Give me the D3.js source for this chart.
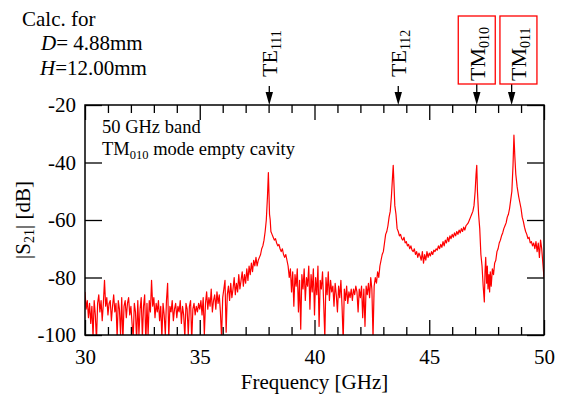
<!DOCTYPE html>
<html><head><meta charset="utf-8">
<script src="https://cdn.jsdelivr.net/npm/d3@7/dist/d3.min.js"></script>
<style>
html,body{margin:0;padding:0;background:#fff;}
svg{display:block;}
</style></head>
<body><svg id="c" width="561" height="396"></svg>
<script>
// ---- data ----
const xTickLabels = [30, 35, 40, 45, 50];
const yTickLabels = [-100, -80, -60, -40, -20];
const modeNames = ["TE", "TE", "TM", "TM"];
const modeSubs = ["111", "112", "010", "011"];
const modeFreqs = [38.03, 43.65, 47.07, 48.59];
const modeBoxed = [false, false, true, true];

const freqGHz = [
30.00,30.05,30.10,30.15,30.20,30.25,30.30,30.35,30.40,30.45,30.50,30.55,30.60,30.65,30.70,30.75,30.80,30.85,30.90,30.95,
31.00,31.05,31.10,31.15,31.20,31.25,31.30,31.35,31.40,31.45,31.50,31.55,31.60,31.65,31.70,31.75,31.80,31.85,31.90,31.95,
32.00,32.05,32.10,32.15,32.20,32.25,32.30,32.35,32.40,32.45,32.50,32.55,32.60,32.65,32.70,32.75,32.80,32.85,32.90,32.95,
33.00,33.05,33.10,33.15,33.20,33.25,33.30,33.35,33.40,33.45,33.50,33.55,33.60,33.65,33.70,33.75,33.80,33.85,33.90,33.95,
34.00,34.05,34.10,34.15,34.20,34.25,34.30,34.35,34.40,34.45,34.50,34.55,34.60,34.65,34.70,34.75,34.80,34.85,34.90,34.95,
35.00,35.05,35.10,35.15,35.20,35.25,35.30,35.35,35.40,35.45,35.50,35.55,35.60,35.65,35.70,35.75,35.80,35.85,35.90,35.95,
36.00,36.05,36.10,36.15,36.20,36.25,36.30,36.35,36.40,36.45,36.50,36.55,36.60,36.65,36.70,36.75,36.80,36.85,36.90,36.95,
37.00,37.05,37.10,37.15,37.20,37.25,37.30,37.35,37.40,37.45,37.50,37.55,37.60,37.65,37.70,37.75,37.80,37.85,37.90,37.95,
37.99,38.02,38.04,38.07,38.10,38.15,38.20,38.25,38.30,38.35,38.40,38.45,38.50,38.55,38.60,38.65,38.70,38.75,38.80,
38.85,38.90,38.95,39.00,39.05,39.10,39.15,39.20,39.25,39.30,39.35,39.40,39.45,39.50,39.55,39.60,39.65,39.70,39.75,39.80,
39.85,39.90,39.95,40.00,40.05,40.10,40.15,40.20,40.25,40.30,40.35,40.40,40.45,40.50,40.55,40.60,40.65,40.70,40.75,40.80,
40.85,40.90,40.95,41.00,41.05,41.10,41.15,41.20,41.25,41.30,41.35,41.40,41.45,41.50,41.55,41.60,41.65,41.70,41.75,41.80,
41.85,41.90,41.95,42.00,42.05,42.10,42.15,42.20,42.25,42.30,42.35,42.40,42.45,42.50,42.55,42.60,42.65,42.70,42.75,42.80,
42.85,42.90,42.95,43.00,43.05,43.10,43.15,43.20,43.25,43.30,43.35,43.40,43.43,43.46,43.50,43.55,43.60,43.65,43.70,43.75,
43.80,43.85,43.90,43.95,44.00,44.05,44.10,44.15,44.20,44.25,44.30,44.35,44.40,44.45,44.50,44.55,44.60,44.65,44.70,44.75,
44.80,44.85,44.90,44.95,45.00,45.05,45.10,45.15,45.20,45.25,45.30,45.35,45.40,45.45,45.50,45.55,45.60,45.65,45.70,45.75,
45.80,45.85,45.90,45.95,46.00,46.05,46.10,46.15,46.20,46.25,46.30,46.35,46.40,46.45,46.50,46.55,46.60,46.65,46.70,46.75,
46.80,46.85,46.90,46.95,47.00,47.04,47.07,47.10,47.15,47.20,47.25,47.30,47.35,47.40,47.43,47.46,47.50,47.53,47.56,47.60,
47.63,47.66,47.70,47.75,47.80,47.85,47.90,47.95,48.00,48.05,48.10,48.15,48.20,48.25,48.30,48.35,48.40,48.45,48.50,48.55,
48.60,48.65,48.69,48.73,48.77,48.83,48.90,48.95,49.00,49.05,49.10,49.15,49.20,49.25,49.30,49.35,49.40,49.45,49.50,49.55,
49.60,49.65,49.70,49.75,49.80,49.85,49.90,49.95,50.00
];
const s21dB = [
-85,-91,-88,-94,-89,-96,-90,-101,-88,-93,-102,-89,-86,-92,-88,-95,-89,-81,-90,-87,
-93,-89,-88,-95,-90,-86,-92,-89,-101,-88,-91,-100,-87,-102,-90,-88,-94,-89,-87,-93,
-90,-96,-101,-89,-92,-102,-88,-100,-91,-87,-101,-90,-86,-103,-89,-100,-88,-92,-81,-90,
-87,-94,-89,-92,-88,-95,-90,-101,-89,-93,-100,-88,-82,-101,-90,-92,-88,-95,-91,-89,
-94,-90,-92,-88,-96,-90,-93,-101,-89,-91,-100,-90,-88,-102,-91,-89,-93,-90,-92,-89,
-91,-88,-93,-87,-100,-89,-85,-91,-87,-90,-84,-92,-88,-86,-91,-85,-89,-86,-92,-101,
-87,-84,-81,-99,-86,-83,-88,-82,-87,-84,-80,-86,-82,-85,-79,-84,-81,-78,-83,-79,
-82,-77,-81,-76,-79,-75,-78,-74,-76,-73,-76,-74,-73,-72,-70,-69,-67,-64,-60,-52,
-43.5,-52,-58,-60,-64,-65,-66,-67,-66.5,-68,-69,-68.5,-70,-71,-70,-72,-73,-72,-74,
-76,-80,-77,-85,-78,-90,-79,-83,-77,-92,-81,-98,-79,-84,-77,-88,-80,-83,-76,-91,
-79,-85,-77,-93,-80,-86,-76,-97,-81,-84,-78,-89,-101,-80,-86,-78,-88,-81,-85,-83,
-90,-82,-86,-92,-83,-87,-81,-90,-102,-84,-88,-83,-89,-85,-87,-84,-88,-84,-86,-83,
-85,-92,-84,-87,-83,-94,-84,-97,-83,-86,-82,-87,-80,-84,-101,-83,-80,-82,-78,-80,
-76,-74,-72,-71,-68,-65,-64,-62,-59,-57,-52,-45,-41,-47,-55,-58,-63,-64,-65.5,-65,
-66.5,-67,-66,-68,-67.5,-69,-68.5,-70,-69,-70.5,-71,-70,-72,-71,-73,-71.5,-72.5,-74,-71,-75,
-72,-74,-71,-73,-71.5,-72.5,-71,-72,-70.5,-71,-70,-70.5,-69,-70,-68.5,-69.5,-67.5,-69,-67,-68,
-66,-67.5,-65.5,-66.5,-65,-66,-64.5,-65.5,-64,-65,-63.5,-64.5,-63,-64,-62.5,-63.5,-62,-61.5,-61,-60,
-59,-58,-57,-55,-50,-44,-41,-50,-58,-63,-72,-76,-83,-88.5,-78,-73,-82,-76,-84,-79,
-85,-78,-83,-77,-79,-75,-74,-71,-70,-68,-67,-65.5,-64.5,-63,-62,-61,-59,-58,-56,-53,
-50,-41,-30.5,-38,-44,-48.5,-52,-54,-56,-59,-60.5,-62.5,-64,-65,-66.5,-66,-68,-67.5,-69,-68,
-70,-67.5,-71,-68,-73,-67,-70,-75,-80
];

// ---- layout ----
const svg = d3.select("#c");
const L = 85, R = 544, T = 105, B = 335;
const x = d3.scaleLinear().domain([30, 50]).range([L, R]);
const y = d3.scaleLinear().domain([-100, -20]).range([B, T]);

svg.append("defs").append("clipPath").attr("id", "clip")
  .append("rect").attr("x", L).attr("y", T).attr("width", R - L).attr("height", B - T);

// curve
const pts = freqGHz.map((f, i) => [f, s21dB[i]]);
svg.append("path")
  .datum(pts)
  .attr("clip-path", "url(#clip)")
  .attr("fill", "none")
  .attr("stroke", "#ff0000")
  .attr("stroke-width", 1.2)
  .attr("stroke-linejoin", "round")
  .attr("d", d3.line().x(d => x(d[0])).y(d => y(d[1])));

// axes
const minorX = d3.range(30, 51, 1).filter(v => v % 5 !== 0);
function styleAxis(g) {
  g.attr("font-size", 21);
  g.select(".domain").remove();
  g.selectAll(".tick line").attr("stroke", "#000").attr("stroke-width", 1.3);
  g.selectAll(".tick text").attr("fill", "#000");
}
svg.append("g").attr("transform", `translate(0,${B})`)
  .call(d3.axisBottom(x).tickValues(xTickLabels).tickSizeInner(-15).tickSizeOuter(0).tickPadding(14).tickFormat(d3.format("d")))
  .call(styleAxis);
svg.append("g").attr("transform", `translate(0,${B})`)
  .call(d3.axisBottom(x).tickValues(minorX).tickSizeInner(-8).tickSizeOuter(0).tickFormat(""))
  .call(styleAxis);
svg.append("g").attr("transform", `translate(0,${T})`)
  .call(d3.axisTop(x).tickValues(xTickLabels).tickSizeInner(-15).tickSizeOuter(0).tickFormat(""))
  .call(styleAxis);
svg.append("g").attr("transform", `translate(0,${T})`)
  .call(d3.axisTop(x).tickValues(minorX).tickSizeInner(-8).tickSizeOuter(0).tickFormat(""))
  .call(styleAxis);
svg.append("g").attr("transform", `translate(${L},0)`)
  .call(d3.axisLeft(y).tickValues(yTickLabels).tickSizeInner(-17).tickSizeOuter(0).tickPadding(9).tickFormat(d => String(d)))
  .call(styleAxis);
svg.append("g").attr("transform", `translate(${R},0)`)
  .call(d3.axisRight(y).tickValues(yTickLabels).tickSizeInner(-17).tickSizeOuter(0).tickFormat(""))
  .call(styleAxis);

svg.append("rect").attr("x", L).attr("y", T).attr("width", R - L).attr("height", B - T)
  .attr("fill", "none").attr("stroke", "#000").attr("stroke-width", 1.5);

// axis titles
svg.append("text").attr("x", (L + R) / 2).attr("y", 389)
  .attr("text-anchor", "middle").attr("font-size", 21).text("Frequency [GHz]");
const yt = svg.append("text").attr("transform", `translate(30,${(T + B) / 2}) rotate(-90)`)
  .attr("text-anchor", "middle").attr("font-size", 21);
yt.append("tspan").text("|S");
yt.append("tspan").attr("font-size", 14).attr("dy", 4).text("21");
yt.append("tspan").attr("dy", -4).text("| [dB]");

// calc text top-left
const calc = svg.append("g").attr("font-size", 21).attr("fill", "#000");
calc.append("text").attr("x", 22).attr("y", 26).text("Calc. for");
const t2 = calc.append("text").attr("x", 41).attr("y", 50);
t2.append("tspan").style("font-style", "italic").text("D");
t2.append("tspan").text("= 4.88mm");
const t3 = calc.append("text").attr("x", 40).attr("y", 75);
t3.append("tspan").style("font-style", "italic").text("H");
t3.append("tspan").text("=12.00mm");

// inner text
const inner = svg.append("g").attr("font-size", 18.5).attr("fill", "#000");
inner.append("text").attr("x", 102).attr("y", 133).text("50 GHz band");
const it2 = inner.append("text").attr("x", 102).attr("y", 155);
it2.append("tspan").text("TM");
it2.append("tspan").attr("font-size", 12.5).attr("dy", 4).text("010");
it2.append("tspan").attr("dy", -4).text(" mode empty cavity");

// mode markers
modeFreqs.forEach((f, i) => {
  const ax = x(f);
  const boxed = modeBoxed[i];
  const lineTop = boxed ? 84 : 86;
  svg.append("line").attr("x1", ax).attr("x2", ax).attr("y1", lineTop).attr("y2", T - 10)
    .attr("stroke", "#000").attr("stroke-width", 1.3);
  svg.append("path").attr("d", `M${ax - 3.7},${T - 13} L${ax + 3.7},${T - 13} L${ax},${T} Z`).attr("fill", "#000");
  let cx = ax;
  if (boxed) {
    cx = (i === 3) ? ax + 6.8 : ax;
    svg.append("rect").attr("x", cx - 18.5).attr("y", 16).attr("width", 37).attr("height", 68)
      .attr("fill", "none").attr("stroke", "#ff0000").attr("stroke-width", 1.3);
  }
  const tx = svg.append("text")
    .attr("transform", `translate(${cx + 8},${boxed ? 81 : 77}) rotate(-90)`)
    .attr("font-size", 22).attr("fill", "#000");
  tx.append("tspan").text(modeNames[i]);
  tx.append("tspan").attr("font-size", 14).attr("dy", 4).text(modeSubs[i]);
});

svg.selectAll("text").style("font-family", "'Liberation Serif'");
</script></body></html>
